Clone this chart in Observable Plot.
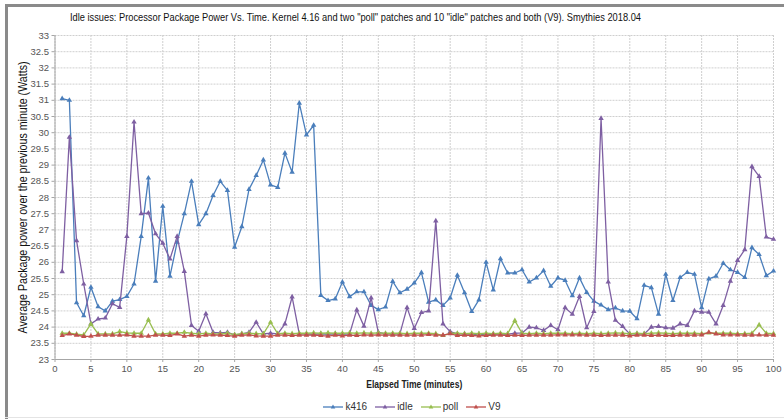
<!DOCTYPE html>
<html><head><meta charset="utf-8">
<script src="https://cdn.jsdelivr.net/npm/d3@7"></script>
<script src="https://cdn.jsdelivr.net/npm/@observablehq/plot@0.6"></script>
<style>
body{margin:0;background:#fff;}
#wrap{position:relative;width:784px;height:419px;overflow:hidden;background:#fff;font-family:"Liberation Sans",Arial,sans-serif;}
#frameL{position:absolute;left:5px;top:4px;width:3px;height:415px;background:#8a8a8a;}
#frameT{position:absolute;left:5px;top:4px;width:779px;height:3px;background:#8a8a8a;}
#frameB{position:absolute;left:5px;top:417px;width:779px;height:1px;background:#e4e4e4;}
#title{position:absolute;left:70px;top:11px;font-size:11.5px;color:#111;white-space:nowrap;transform-origin:0 0;}
#chart{position:absolute;left:0;top:28px;}
#legend{position:absolute;left:0;top:401px;width:784px;display:flex;justify-content:center;padding-left:40px;box-sizing:border-box;font-size:10px;color:#333;}
#legend .it{display:flex;align-items:center;margin:0 4px;}
#legend svg{margin-right:2px;}
</style>
</head><body>
<div id="wrap">
<div id="frameL"></div><div id="frameT"></div><div id="frameB"></div>
<div id="title">Idle issues: Processor Package Power Vs. Time. Kernel 4.16 and two "poll" patches and 10 "idle" patches and both (V9). Smythies 2018.04</div>
<div id="chart"></div>
<div id="legend"></div>
</div>
<script>
const minutes = d3.range(1, 101);
const seriesNames = ["k416", "idle", "poll", "V9"];
const seriesColors = ["#4A7EBB", "#7E5FA2", "#98BE4F", "#C0504D"];
const yTicks = d3.range(23, 33.01, 0.5);
const xTicks = d3.range(0, 101, 5);

const k416 = [31.05,31.0,24.75,24.35,25.23,24.63,24.5,24.8,24.85,24.95,
25.33,26.8,28.6,25.42,27.73,25.57,26.62,27.5,28.5,27.16,
27.5,28.06,28.5,28.22,26.47,27.1,28.25,28.68,29.16,28.39,
28.31,29.37,28.78,30.91,29.93,30.23,24.98,24.82,24.87,25.39,
24.94,25.09,25.09,24.67,24.54,24.62,25.41,25.06,25.17,25.36,
25.68,24.77,24.84,24.67,24.9,25.6,25.06,24.48,24.84,26.0,
25.15,26.11,25.67,25.67,25.77,25.39,25.52,25.74,25.26,25.52,
25.44,24.97,25.52,25.07,24.8,24.68,24.54,24.59,24.5,24.49,
24.26,25.29,25.22,24.4,25.63,24.82,25.53,25.69,25.63,24.6,
25.49,25.57,25.97,25.77,25.69,25.53,26.45,26.24,25.59,25.73];

const idle = [25.71,29.86,26.67,25.33,24.1,24.25,24.28,24.72,24.61,26.8,
30.33,27.5,27.52,26.88,26.59,26.1,26.8,25.72,24.05,23.87,
24.41,23.84,23.82,23.84,23.76,23.79,23.84,24.15,23.79,23.81,
23.79,24.1,24.93,23.79,23.79,23.78,23.79,23.78,23.79,23.78,
23.79,24.53,24.03,24.9,23.84,23.79,23.79,23.79,24.6,23.96,
24.45,24.5,27.28,24.1,23.86,23.79,23.79,23.78,23.78,23.78,
23.78,23.79,23.78,23.81,23.82,24.0,23.98,23.9,24.05,23.92,
24.6,24.4,24.95,23.98,24.48,30.44,25.39,24.21,24.02,23.79,
23.79,23.79,24.0,24.02,23.98,23.97,24.1,24.05,24.5,24.46,
24.46,24.1,24.67,25.42,26.06,26.39,28.95,28.65,26.78,26.71];

const poll = [23.81,23.81,23.78,23.76,24.1,23.79,23.79,23.79,23.86,23.82,
23.81,23.81,24.22,23.79,23.79,23.81,23.81,23.84,23.81,23.79,
23.81,23.79,23.79,23.81,23.77,23.8,23.81,23.8,23.79,24.15,
23.8,23.81,23.8,23.81,23.81,23.82,23.81,23.82,23.81,23.81,
23.82,23.81,23.82,23.81,23.82,23.81,23.81,23.81,23.8,23.81,
23.81,23.81,23.8,23.74,23.81,23.81,23.8,23.81,23.8,23.81,
23.8,23.81,23.8,24.2,23.81,23.8,23.81,23.8,23.81,23.81,
23.81,23.8,23.81,23.8,23.81,23.8,23.81,23.82,23.81,23.8,
23.81,23.8,23.81,23.82,23.81,23.8,23.81,23.81,23.81,23.8,
23.82,23.81,23.81,23.81,23.8,23.8,23.81,24.07,23.81,23.8];

const V9 = [23.74,23.79,23.75,23.71,23.72,23.75,23.75,23.75,23.75,23.76,
23.72,23.72,23.72,23.75,23.75,23.74,23.79,23.72,23.75,23.72,
23.75,23.76,23.75,23.74,23.72,23.75,23.76,23.73,23.72,23.72,
23.75,23.75,23.74,23.75,23.75,23.75,23.74,23.72,23.75,23.73,
23.75,23.74,23.76,23.75,23.76,23.75,23.75,23.75,23.75,23.75,
23.75,23.77,23.75,23.75,23.8,23.74,23.75,23.74,23.73,23.74,
23.75,23.75,23.74,23.75,23.74,23.75,23.75,23.75,23.75,23.76,
23.76,23.76,23.76,23.75,23.75,23.74,23.75,23.75,23.75,23.73,
23.75,23.75,23.74,23.75,23.74,23.74,23.75,23.75,23.75,23.76,
23.84,23.79,23.76,23.76,23.76,23.75,23.75,23.76,23.75,23.75];

const all = [k416, idle, poll, V9];
const rows = [];
seriesNames.forEach((s, i) => all[i].forEach((v, j) => rows.push({series: s, minute: minutes[j], value: v})));

const font = '"Liberation Sans",Arial,sans-serif';

const marks = [
  Plot.gridX(xTicks, {stroke: "#cfcfcf", strokeOpacity: 1, strokeDasharray: "2,1"}),
  Plot.gridY(yTicks, {stroke: "#cfcfcf", strokeOpacity: 1, strokeDasharray: "2,1"}),
  Plot.ruleX([0], {stroke: "#a6a6a6"}),
  Plot.ruleY([23], {stroke: "#a6a6a6"}),
  Plot.axisY({ticks: yTicks, tickSize: 3, tickPadding: 3, tickFormat: d => String(d), fill: "#555", stroke: "#a6a6a6",
    label: "Average Package power over the previous minute (Watts)", labelAnchor: "center", labelArrow: "none", labelOffset: 37}),
  Plot.axisX({ticks: xTicks, tickSize: 3, tickPadding: 3, fill: "#555", stroke: "#a6a6a6",
    label: "Elapsed Time (minutes)", labelAnchor: "center", labelArrow: "none", labelOffset: 28})
];
seriesNames.forEach((s, i) => {
  const d = rows.filter(r => r.series === s);
  marks.push(Plot.line(d, {x: "minute", y: "value", stroke: seriesColors[i], strokeWidth: 1.3}));
  marks.push(Plot.dot(d, {x: "minute", y: "value", symbol: "triangle", r: 2, fill: seriesColors[i], stroke: "none"}));
});

const chart = Plot.plot({
  width: 784, height: 370,
  marginLeft: 54.5, marginRight: 11, marginTop: 7, marginBottom: 39,
  x: {domain: [0, 100]},
  y: {domain: [23, 33]},
  style: {fontFamily: font, fontSize: "9.5px", background: "transparent", overflow: "visible"},
  marks
});
const yl = chart.querySelector('[aria-label="y-axis label"] text');
if (yl) { yl.style.fontWeight = "normal"; yl.style.fontSize = "12px"; yl.setAttribute("fill", "#111");
  yl.setAttribute("textLength", "272"); yl.setAttribute("lengthAdjust", "spacingAndGlyphs"); }
const xl = chart.querySelector('[aria-label="x-axis label"] text');
if (xl) { xl.style.fontWeight = "bold"; xl.style.fontSize = "11px"; xl.setAttribute("fill", "#222");
  xl.setAttribute("textLength", "96"); xl.setAttribute("lengthAdjust", "spacingAndGlyphs"); }
document.getElementById("chart").appendChild(chart);

const t = document.getElementById("title");
const tw = t.getBoundingClientRect().width;
t.style.transform = `scaleX(${571 / tw})`;

const lg = document.getElementById("legend");
seriesNames.forEach((s, i) => {
  const it = document.createElement("div"); it.className = "it";
  it.innerHTML = `<svg width="20" height="8"><line x1="0" x2="20" y1="4" y2="4" stroke="${seriesColors[i]}" stroke-width="1.3"/><path d="M10,1.5 L12.3,5.5 L7.7,5.5 Z" fill="${seriesColors[i]}"/></svg><span>${s}</span>`;
  lg.appendChild(it);
});
</script>
</body></html>
